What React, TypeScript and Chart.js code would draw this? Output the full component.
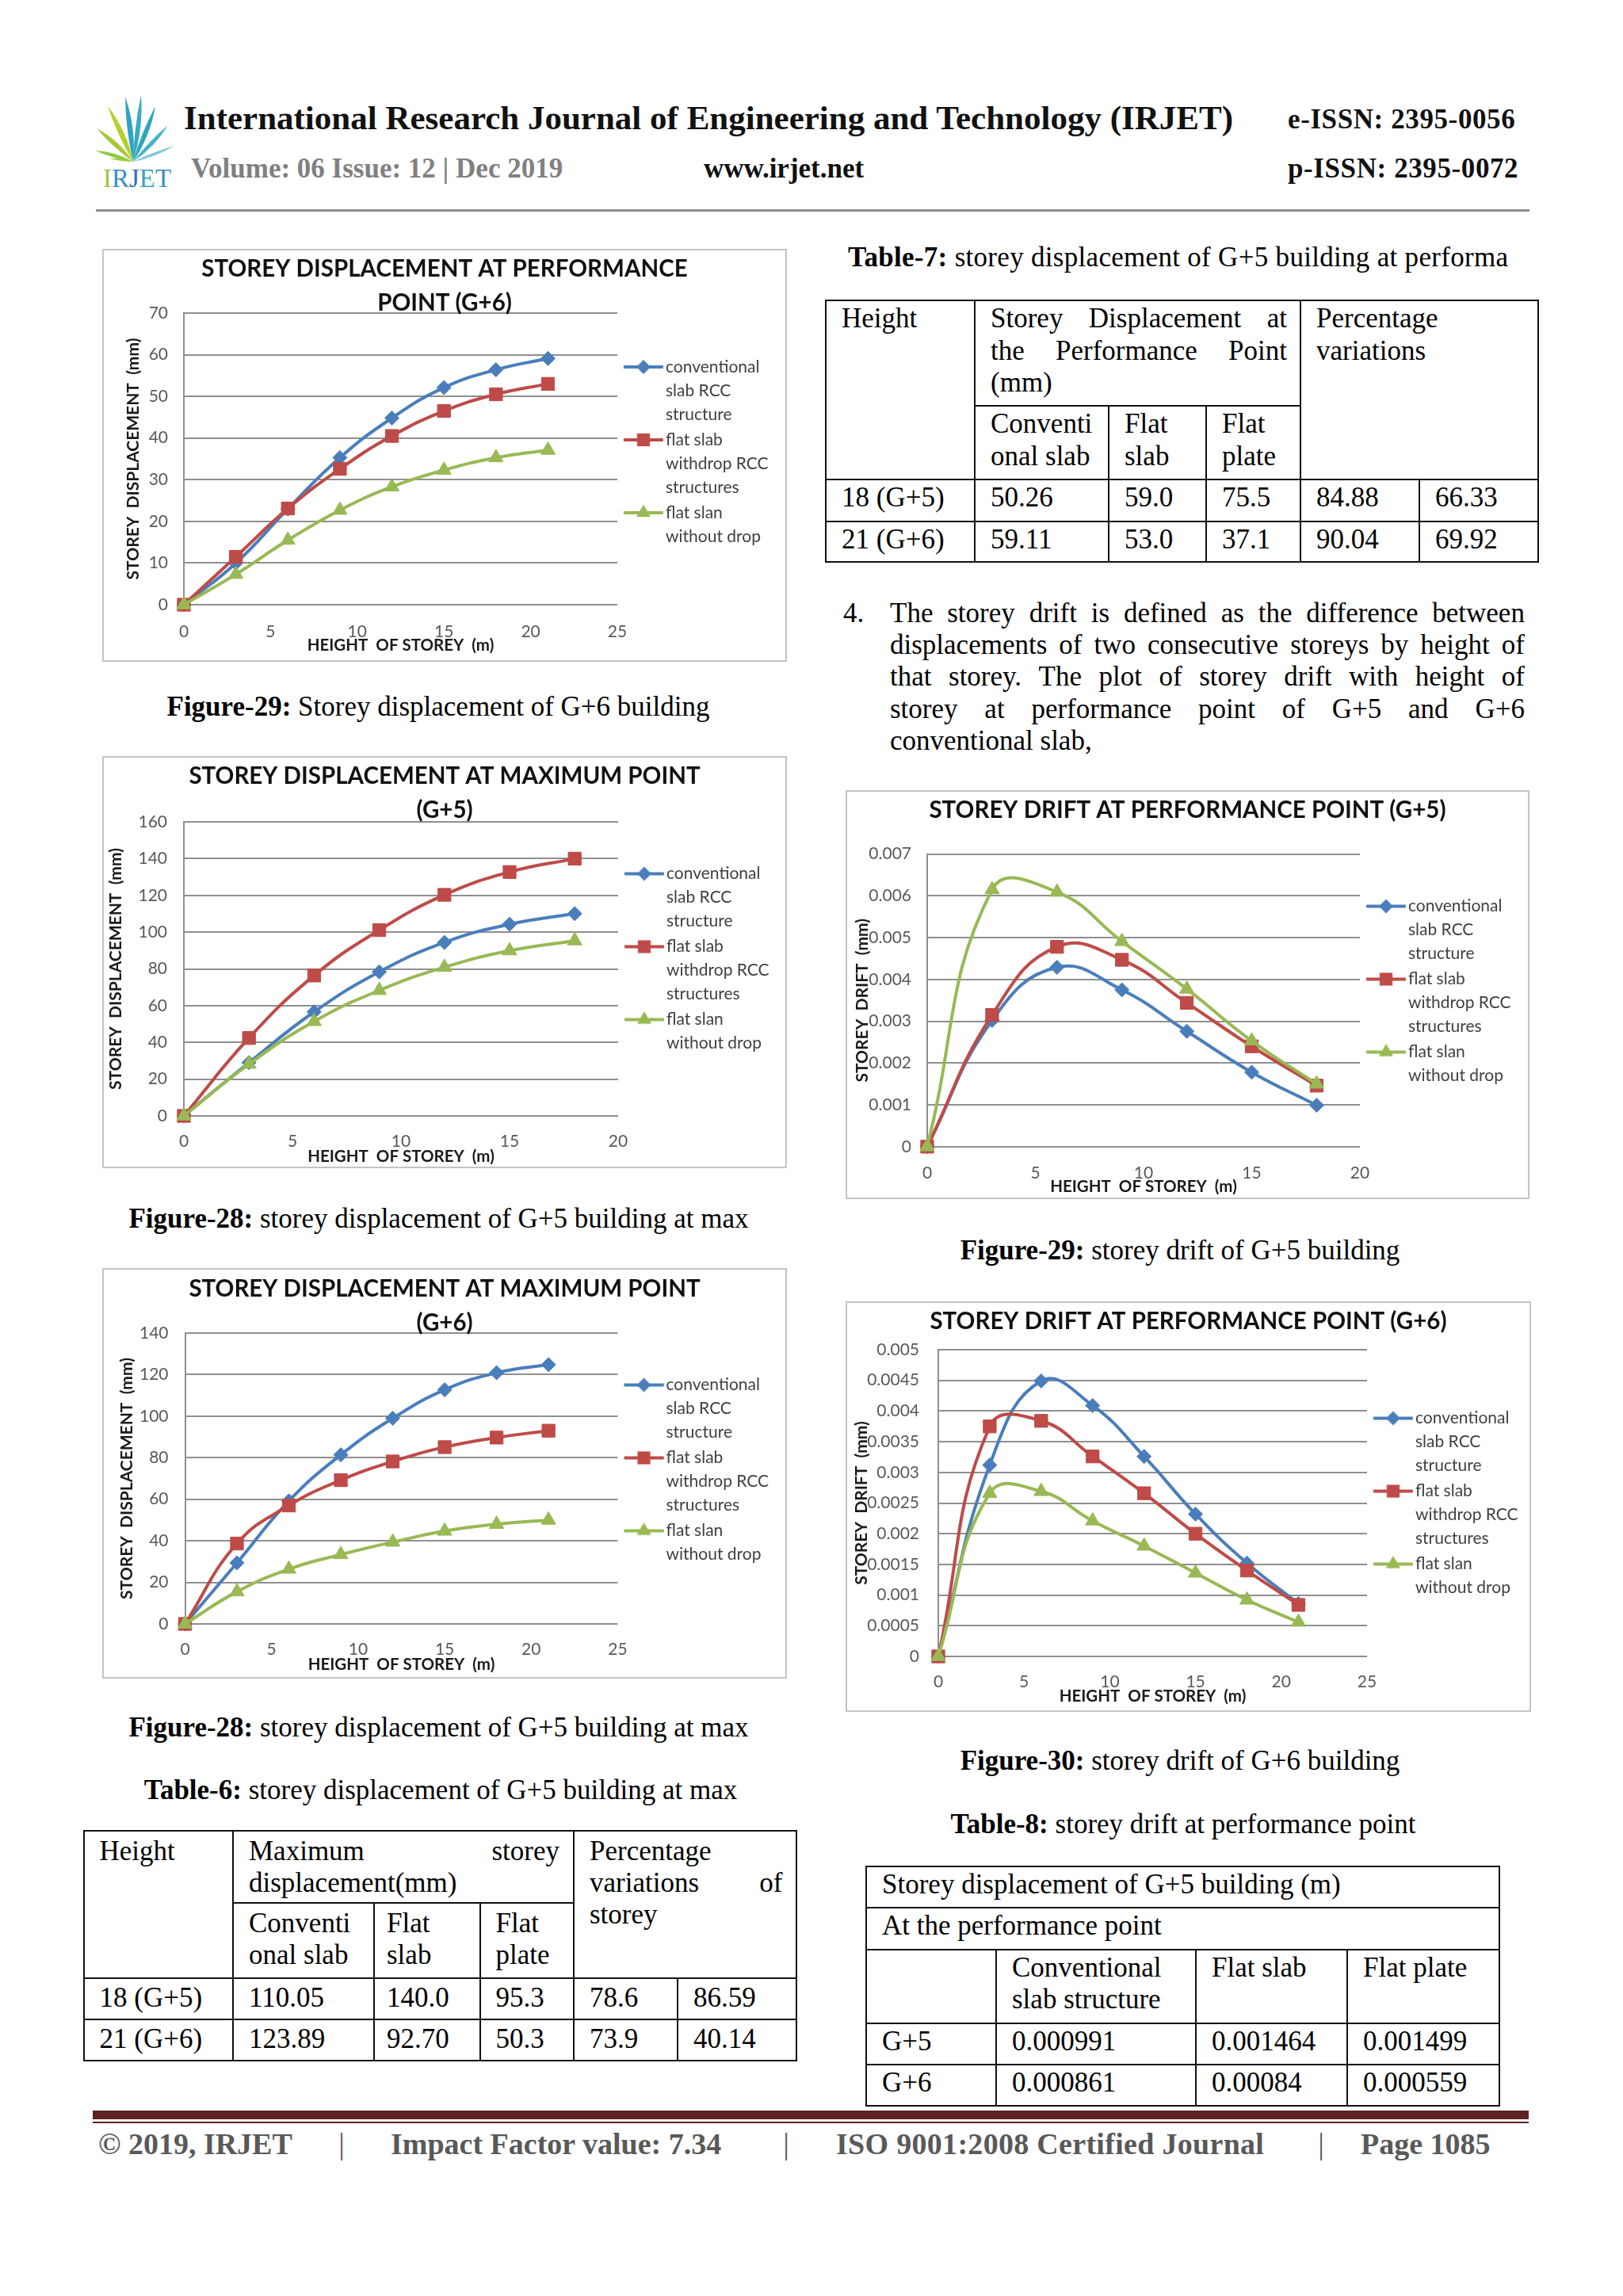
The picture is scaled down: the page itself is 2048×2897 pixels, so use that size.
import React, { useEffect, useRef } from 'react';
import { Chart, registerables } from 'chart.js';

Chart.register(...registerables);

const SERIF = "'Liberation Serif', 'Times New Roman', serif";
const SANS = "Lato, 'Open Sans', 'Liberation Sans', sans-serif";
Chart.defaults.font.family = SANS;

// ---------------- data ----------------
const HEIGHTS_G5 = [0, 3, 6, 9, 12, 15, 18];
const HEIGHTS_G6 = [0, 3, 6, 9, 12, 15, 18, 21];

const SERIES_NAMES = ['conventional slab RCC structure', 'flat slab withdrop RCC structures', 'flat slan without drop'];
const SERIES_LEGEND_LINES = [
  ['conventional', 'slab RCC', 'structure'],
  ['flat slab', 'withdrop RCC', 'structures'],
  ['flat slan', 'without drop'],
];

// Figure-29 (left): storey displacement at performance point, G+6 (mm)
const PERF_DISP_G6_CONV = [0, 10, 23, 35.3, 44.8, 52.1, 56.4, 59.1];
const PERF_DISP_G6_FLATSLAB = [0, 11.5, 23.1, 32.6, 40.5, 46.5, 50.5, 53.0];
const PERF_DISP_G6_FLATPLATE = [0, 7.3, 15.5, 22.7, 28.3, 32.3, 35.3, 37.1];

// Figure-28: maximum storey displacement, G+5 (mm)
const MAX_DISP_G5_CONV = [0, 29, 56.6, 78.4, 94.4, 104.3, 110.05];
const MAX_DISP_G5_FLATSLAB = [0, 42.4, 76.4, 101.1, 120.3, 132.7, 140.0];
const MAX_DISP_G5_FLATPLATE = [0, 28.2, 51.4, 68.3, 80.9, 89.9, 95.3];

// Figure-28 (second): maximum storey displacement, G+6 (mm)
const MAX_DISP_G6_CONV = [0, 29.4, 59.2, 81.4, 99.0, 112.7, 120.9, 124.8];
const MAX_DISP_G6_FLATSLAB = [0, 38.7, 57.0, 69.2, 78.2, 85.1, 89.7, 93.0];
const MAX_DISP_G6_FLATPLATE = [0, 15.5, 26.4, 33.4, 39.4, 44.7, 48.0, 50.0];

// Figure-29 (right): storey drift at performance point, G+5
const DRIFT_G5_CONV = [0, 0.00302, 0.00429, 0.00375, 0.00276, 0.00178, 0.00099];
const DRIFT_G5_FLATSLAB = [0, 0.00315, 0.00478, 0.00447, 0.00344, 0.0024, 0.00146];
const DRIFT_G5_FLATPLATE = [0, 0.00615, 0.00609, 0.00491, 0.00377, 0.00253, 0.0015];

// Figure-30: storey drift at performance point, G+6
const DRIFT_G6_CONV = [0, 0.00312, 0.00449, 0.00409, 0.00326, 0.00232, 0.00152, 0.00086];
const DRIFT_G6_FLATSLAB = [0, 0.00375, 0.00384, 0.00326, 0.00266, 0.002, 0.0014, 0.00084];
const DRIFT_G6_FLATPLATE = [0, 0.00266, 0.00269, 0.00221, 0.0018, 0.00136, 0.00092, 0.00056];

// tick values and labels
const X_TICKS_G5 = [0, 5, 10, 15, 20];
const X_TICKS_G6 = [0, 5, 10, 15, 20, 25];
const Y_TICKS_PERF_G6 = [0, 10, 20, 30, 40, 50, 60, 70];
const Y_LABELS_PERF_G6 = ['0', '10', '20', '30', '40', '50', '60', '70'];
const Y_TICKS_MAX_G5 = [0, 20, 40, 60, 80, 100, 120, 140, 160];
const Y_LABELS_MAX_G5 = ['0', '20', '40', '60', '80', '100', '120', '140', '160'];
const Y_TICKS_MAX_G6 = [0, 20, 40, 60, 80, 100, 120, 140];
const Y_LABELS_MAX_G6 = ['0', '20', '40', '60', '80', '100', '120', '140'];
const Y_TICKS_DRIFT_G5 = [0, 0.001, 0.002, 0.003, 0.004, 0.005, 0.006, 0.007];
const Y_LABELS_DRIFT_G5 = ['0', '0.001', '0.002', '0.003', '0.004', '0.005', '0.006', '0.007'];
const Y_TICKS_DRIFT_G6 = [0, 0.0005, 0.001, 0.0015, 0.002, 0.0025, 0.003, 0.0035, 0.004, 0.0045, 0.005];
const Y_LABELS_DRIFT_G6 = ['0', '0.0005', '0.001', '0.0015', '0.002', '0.0025', '0.003', '0.0035', '0.004', '0.0045', '0.005'];

// tables
const TABLE7_ROWS = [
  ['18 (G+5)', '50.26', '59.0', '75.5', '84.88', '66.33'],
  ['21 (G+6)', '59.11', '53.0', '37.1', '90.04', '69.92'],
];
const TABLE6_ROWS = [
  ['18 (G+5)', '110.05', '140.0', '95.3', '78.6', '86.59'],
  ['21 (G+6)', '123.89', '92.70', '50.3', '73.9', '40.14'],
];
const TABLE8_ROWS = [
  ['G+5', '0.000991', '0.001464', '0.001499'],
  ['G+6', '0.000861', '0.00084', '0.000559'],
];
const PARA_LINES = [
  'The storey drift is defined as the difference between',
  'displacements of two consecutive storeys by height of',
  'that storey. The plot of storey drift with height of',
  'storey at performance point of G+5 and G+6',
  'conventional slab,',
];

// ---------------- styles ----------------
const SERIES_STYLES = [
  { color: '#4A7EBB', point: 'rectRot', radius: 9 },
  { color: '#BE4B48', point: 'rect', radius: 11.5 },
  { color: '#98B954', point: 'triangle', radius: 10.5 },
];
const LINE_W = 4;
const GRID_COLOR = '#8f8f8f';
const TICK_COLOR = '#595959';
const TITLE_LH = 43;
const LEGEND_BOX_W = 48.5;
const LEGEND_PAD = 2;

type ChartSpec = {
  frame: number[];
  plot: number[];
  title: string[];
  titleCY: number;
  xTickCY: number;
  xTitleCY: number;
  yTickRight: number;
  yTitleX: number;
  yTitle: string;
  heights: number[];
  series: number[][];
  xTicks: number[];
  yTicks: number[];
  yLabels: string[];
};

const SPEC_PERF_G6: ChartSpec = {
  frame: [129, 314, 864, 521], plot: [232, 395, 779, 763],
  title: ['STOREY DISPLACEMENT AT PERFORMANCE', 'POINT (G+6)'], titleCY: 339,
  xTickCY: 797, xTitleCY: 814, yTickRight: 212, yTitleX: 168,
  yTitle: 'STOREY  DISPLACEMENT  (mm)',
  heights: HEIGHTS_G6, series: [PERF_DISP_G6_CONV, PERF_DISP_G6_FLATSLAB, PERF_DISP_G6_FLATPLATE],
  xTicks: X_TICKS_G6, yTicks: Y_TICKS_PERF_G6, yLabels: Y_LABELS_PERF_G6,
};
const SPEC_MAX_G5: ChartSpec = {
  frame: [129, 954, 864, 520], plot: [232, 1037, 780, 1408],
  title: ['STOREY DISPLACEMENT AT MAXIMUM POINT', '(G+5)'], titleCY: 979.5,
  xTickCY: 1440, xTitleCY: 1459, yTickRight: 211, yTitleX: 146,
  yTitle: 'STOREY  DISPLACEMENT  (mm)',
  heights: HEIGHTS_G5, series: [MAX_DISP_G5_CONV, MAX_DISP_G5_FLATSLAB, MAX_DISP_G5_FLATPLATE],
  xTicks: X_TICKS_G5, yTicks: Y_TICKS_MAX_G5, yLabels: Y_LABELS_MAX_G5,
};
const SPEC_MAX_G6: ChartSpec = {
  frame: [129, 1600, 864, 518], plot: [233.5, 1682, 779.5, 2049],
  title: ['STOREY DISPLACEMENT AT MAXIMUM POINT', '(G+6)'], titleCY: 1626,
  xTickCY: 2081, xTitleCY: 2100.5, yTickRight: 212.5, yTitleX: 160,
  yTitle: 'STOREY  DISPLACEMENT  (mm)',
  heights: HEIGHTS_G6, series: [MAX_DISP_G6_CONV, MAX_DISP_G6_FLATSLAB, MAX_DISP_G6_FLATPLATE],
  xTicks: X_TICKS_G6, yTicks: Y_TICKS_MAX_G6, yLabels: Y_LABELS_MAX_G6,
};
const SPEC_DRIFT_G5: ChartSpec = {
  frame: [1067, 997, 863, 516], plot: [1170, 1077.6, 1716, 1446.8],
  title: ['STOREY DRIFT AT PERFORMANCE POINT (G+5)'], titleCY: 1022.5,
  xTickCY: 1480, xTitleCY: 1497.7, yTickRight: 1150, yTitleX: 1088,
  yTitle: 'STOREY  DRIFT  (mm)',
  heights: HEIGHTS_G5, series: [DRIFT_G5_CONV, DRIFT_G5_FLATSLAB, DRIFT_G5_FLATPLATE],
  xTicks: X_TICKS_G5, yTicks: Y_TICKS_DRIFT_G5, yLabels: Y_LABELS_DRIFT_G5,
};
const SPEC_DRIFT_G6: ChartSpec = {
  frame: [1067, 1642, 865, 518], plot: [1184, 1703, 1725, 2090],
  title: ['STOREY DRIFT AT PERFORMANCE POINT (G+6)'], titleCY: 1667,
  xTickCY: 2122, xTitleCY: 2140, yTickRight: 1160, yTitleX: 1087,
  yTitle: 'STOREY  DRIFT  (mm)',
  heights: HEIGHTS_G6, series: [DRIFT_G6_CONV, DRIFT_G6_FLATSLAB, DRIFT_G6_FLATPLATE],
  xTicks: X_TICKS_G6, yTicks: Y_TICKS_DRIFT_G6, yLabels: Y_LABELS_DRIFT_G6,
};

function makeLegendIcon(style: { color: string; point: string }) {
  const c = document.createElement('canvas');
  c.width = 64;
  c.height = 28;
  const ctx = c.getContext('2d');
  if (!ctx) return c;
  const cy = 14;
  ctx.strokeStyle = style.color;
  ctx.lineWidth = LINE_W;
  ctx.beginPath();
  ctx.moveTo(13.75, cy);
  ctx.lineTo(63.75, cy);
  ctx.stroke();
  ctx.fillStyle = style.color;
  const cx = 38.75;
  ctx.beginPath();
  if (style.point === 'rectRot') {
    const r = 9;
    ctx.moveTo(cx, cy - r);
    ctx.lineTo(cx + r, cy);
    ctx.lineTo(cx, cy + r);
    ctx.lineTo(cx - r, cy);
  } else if (style.point === 'rect') {
    const s = 8.1;
    ctx.rect(cx - s, cy - s, 2 * s, 2 * s);
  } else {
    const r = 10.5;
    ctx.moveTo(cx, cy - r);
    ctx.lineTo(cx + r * 0.866, cy + r / 2);
    ctx.lineTo(cx - r * 0.866, cy + r / 2);
  }
  ctx.closePath();
  ctx.fill();
  return c;
}

function ChartPanel({ spec }: { spec: ChartSpec }) {
  const ref = useRef<HTMLCanvasElement | null>(null);
  const [fx, fy, fw, fh] = spec.frame;
  useEffect(() => {
    const canvas = ref.current;
    if (!canvas) return;
    const [pl, ptop, pr, pbot] = spec.plot;
    const icons = SERIES_STYLES.map((s) => makeLegendIcon(s));
    const titleTop = spec.titleCY - fy - TITLE_LH / 2;
    const titleBottom = ptop - fy - titleTop - spec.title.length * TITLE_LH;
    const xt = spec.xTicks;
    const yt = spec.yTicks;
    // the legend box must reach the canvas edge so that its text is not clipped:
    // trailing blanks widen the measured item, and maxWidth then fixes the box width.
    const legendWidth = fw - (pr - fx);
    const chart = new Chart(canvas, {
      type: 'line',
      data: {
        datasets: spec.series.map((vals, i) => ({
          label: SERIES_NAMES[i],
          data: spec.heights.map((h, k) => ({ x: h, y: vals[k] })),
          borderColor: SERIES_STYLES[i].color,
          backgroundColor: SERIES_STYLES[i].color,
          borderWidth: LINE_W,
          pointStyle: SERIES_STYLES[i].point,
          pointRadius: SERIES_STYLES[i].radius,
          pointHoverRadius: SERIES_STYLES[i].radius,
          pointBackgroundColor: SERIES_STYLES[i].color,
          pointBorderColor: SERIES_STYLES[i].color,
          pointBorderWidth: 1,
          tension: 0.45,
          fill: false,
          clip: false,
          order: SERIES_STYLES.length - i,
        })),
      },
      options: {
        responsive: false,
        maintainAspectRatio: false,
        animation: false,
        events: [],
        layout: { padding: 0 },
        plugins: {
          title: {
            display: true,
            text: spec.title,
            color: '#111111',
            font: { family: SANS, size: 29.5, weight: 'bold', lineHeight: TITLE_LH + 'px' },
            padding: { top: titleTop, bottom: titleBottom },
          },
          legend: {
            display: true,
            position: 'right',
            align: 'center',
            maxWidth: legendWidth,
            labels: {
              usePointStyle: true,
              pointStyleWidth: LEGEND_BOX_W,
              padding: LEGEND_PAD,
              color: '#404040',
              font: { family: SANS, size: 21, lineHeight: '30px' },
              generateLabels: () =>
                SERIES_NAMES.map((name, i) => ({
                  text: SERIES_LEGEND_LINES[i].map((l, k) => (i === 0 && k === 0 ? l + ' '.repeat(30) : l)),
                  fillStyle: SERIES_STYLES[i].color,
                  strokeStyle: SERIES_STYLES[i].color,
                  lineWidth: 0,
                  pointStyle: icons[i],
                  hidden: false,
                  datasetIndex: i,
                  fontColor: '#404040',
                  textAlign: 'left',
                })),
            },
          },
          tooltip: { enabled: false },
        },
        scales: {
          x: {
            type: 'linear',
            position: 'bottom',
            min: xt[0],
            max: xt[xt.length - 1],
            afterBuildTicks: (s: any) => {
              s.ticks = xt.map((v) => ({ value: v }));
            },
            afterFit: (s: any) => {
              s.height = fy + fh - pbot;
            },
            grid: { display: false, drawTicks: false },
            border: { display: false },
            ticks: {
              padding: spec.xTickCY - pbot - 12,
              color: TICK_COLOR,
              font: { family: SANS, size: 21, lineHeight: '24px' },
              maxRotation: 0,
              autoSkip: false,
              callback: (_v: any, i: number) => String(xt[i]),
            },
            title: {
              display: true,
              text: 'HEIGHT  OF STOREY  (m)',
              color: '#1a1a1a',
              font: { family: SANS, size: 20.5, weight: 'bold', lineHeight: '24px' },
              padding: { top: 0, bottom: fy + fh - spec.xTitleCY - 12 },
            },
          },
          y: {
            type: 'linear',
            position: 'left',
            min: yt[0],
            max: yt[yt.length - 1],
            afterBuildTicks: (s: any) => {
              s.ticks = yt.map((v) => ({ value: v }));
            },
            afterFit: (s: any) => {
              s.width = pl - fx;
            },
            grid: { color: GRID_COLOR, lineWidth: 2, drawTicks: false },
            border: { display: true, color: GRID_COLOR, width: 2 },
            ticks: {
              padding: pl - spec.yTickRight,
              color: TICK_COLOR,
              font: { family: SANS, size: 21, lineHeight: '24px' },
              autoSkip: false,
              callback: (_v: any, i: number) => spec.yLabels[i],
            },
            title: {
              display: true,
              text: spec.yTitle,
              color: '#1a1a1a',
              font: { family: SANS, size: 21, weight: 'bold', lineHeight: '24px' },
              padding: { top: spec.yTitleX - fx - 12, bottom: 0 },
            },
          },
        },
      },
    } as any);
    return () => chart.destroy();
  }, [spec]);
  return (
    <>
      <canvas
        ref={ref}
        width={fw}
        height={fh}
        style={{ position: 'absolute', left: fx, top: fy, width: fw, height: fh }}
      />
      <div
        style={{
          position: 'absolute', left: fx, top: fy, width: fw, height: fh,
          border: '2px solid #c4c4c4', boxSizing: 'border-box', pointerEvents: 'none',
        }}
      />
    </>
  );
}

// ---------------- page text helpers ----------------
type TxtProps = {
  x: number; base: number; fs: number; bold?: boolean; color?: string;
  children: React.ReactNode; ls?: number; center?: boolean;
};
function Txt({ x, base, fs, bold, color = '#000', children, ls = 0, center }: TxtProps) {
  const L = fs * 1.2;
  const top = base - (L / 2 + 0.3375 * fs);
  return (
    <div
      style={{
        position: 'absolute', top, left: center ? x - 800 : x, width: center ? 1600 : undefined,
        textAlign: center ? 'center' : 'left', fontFamily: SERIF, fontSize: fs,
        lineHeight: `${L}px`, fontWeight: bold ? 700 : 400, color, whiteSpace: 'nowrap', letterSpacing: ls,
      }}
    >
      {children}
    </div>
  );
}

function Caption({ cx, base, label, text }: { cx: number; base: number; label: string; text: string }) {
  return (
    <Txt x={cx} base={base} fs={35} center>
      <b>{label}</b>
      {text}
    </Txt>
  );
}

function JLine({ text }: { text: string }) {
  return (
    <div style={{ display: 'flex', justifyContent: 'space-between', whiteSpace: 'pre' }}>
      {text.split(' ').map((w, i) => (
        <span key={i}>{w}</span>
      ))}
    </div>
  );
}

type CellProps = {
  x1: number; y1: number; x2: number; y2: number; pt: number; lh: number;
  pl?: number; pr?: number; children?: React.ReactNode;
};
function Cell({ x1, y1, x2, y2, pt, lh, pl = 19, pr = 16, children }: CellProps) {
  return (
    <div
      style={{
        position: 'absolute', left: x1 - 1, top: y1 - 1, width: x2 - x1 + 2, height: y2 - y1 + 2,
        border: '2px solid #111', boxSizing: 'border-box', padding: `${pt}px ${pr}px 0 ${pl}px`,
        fontFamily: SERIF, fontSize: 35, lineHeight: `${lh}px`, whiteSpace: 'nowrap', color: '#000',
      }}
    >
      {children}
    </div>
  );
}

function leafPath(bx: number, by: number, tx: number, ty: number, w: number) {
  const mx = (bx + tx) / 2;
  const my = (by + ty) / 2;
  const dx = tx - bx;
  const dy = ty - by;
  const len = Math.hypot(dx, dy);
  const nx = (-dy / len) * w;
  const ny = (dx / len) * w;
  return `M${bx},${by} Q${mx + nx},${my + ny} ${tx},${ty} Q${mx - nx * 0.5},${my - ny * 0.5} ${bx},${by} Z`;
}

function Logo() {
  const leaves = [
    { t: [40, 4], w: 9, c: '#2fa4c0' },
    { t: [60, 2], w: 8, c: '#38aac6' },
    { t: [78, 16], w: 8, c: '#2fa4c0' },
    { t: [94, 40], w: 7, c: '#45b3cc' },
    { t: [102, 66], w: 5, c: '#7cc8d8' },
    { t: [18, 16], w: 9, c: '#b5cf2c' },
    { t: [4, 44], w: 8, c: '#a6c837' },
    { t: [2, 72], w: 6, c: '#8cc63e' },
    { t: [20, 82], w: 4, c: '#9cce4a' },
  ];
  return (
    <svg style={{ position: 'absolute', left: 118, top: 118 }} width={108} height={124} viewBox="0 0 108 124">
      {leaves.map((l, i) => (
        <path key={i} d={leafPath(50, 86, l.t[0], l.t[1], l.w)} fill={l.c} />
      ))}
      <text x={12} y={118} fontFamily={SERIF} fontSize={34} textLength={86} lengthAdjust="spacingAndGlyphs">
        <tspan fill="#9dc23b">I</tspan>
        <tspan fill="#3c8fc4">R</tspan>
        <tspan fill="#2f6fb5">J</tspan>
        <tspan fill="#3ba4bf">E</tspan>
        <tspan fill="#3c8fc4">T</tspan>
      </text>
    </svg>
  );
}

// ---------------- tables ----------------
function Table7() {
  const c = [1042, 1230, 1399, 1522, 1641, 1791, 1941];
  const r = [379, 512, 605, 658, 709];
  const lh = 40.5;
  const pt = 2;
  return (
    <>
      <Cell x1={c[0]} y1={r[0]} x2={c[1]} y2={r[2]} pt={pt} lh={lh}>Height</Cell>
      <Cell x1={c[1]} y1={r[0]} x2={c[4]} y2={r[1]} pt={pt} lh={lh}>
        <JLine text="Storey Displacement at" />
        <JLine text="the Performance Point" />
        <div>(mm)</div>
      </Cell>
      <Cell x1={c[4]} y1={r[0]} x2={c[6]} y2={r[2]} pt={pt} lh={lh}>
        <div>Percentage</div>
        <div>variations</div>
      </Cell>
      <Cell x1={c[1]} y1={r[1]} x2={c[2]} y2={r[2]} pt={pt} lh={lh}>
        <div>Conventi</div>
        <div>onal slab</div>
      </Cell>
      <Cell x1={c[2]} y1={r[1]} x2={c[3]} y2={r[2]} pt={pt} lh={lh}>
        <div>Flat</div>
        <div>slab</div>
      </Cell>
      <Cell x1={c[3]} y1={r[1]} x2={c[4]} y2={r[2]} pt={pt} lh={lh}>
        <div>Flat</div>
        <div>plate</div>
      </Cell>
      {TABLE7_ROWS.map((row, ri) =>
        row.map((v, ci) => (
          <Cell key={`${ri}-${ci}`} x1={c[ci]} y1={r[2 + ri]} x2={c[ci + 1]} y2={r[3 + ri]} pt={pt} lh={lh}>
            {v}
          </Cell>
        ))
      )}
    </>
  );
}

function Table6() {
  const c = [105.5, 294, 472, 605.5, 724, 855, 1005];
  const r = [2310, 2401, 2496, 2548, 2600];
  const lh = 40;
  const pt = 5;
  return (
    <>
      <Cell x1={c[0]} y1={r[0]} x2={c[1]} y2={r[2]} pt={pt} lh={lh}>Height</Cell>
      <Cell x1={c[1]} y1={r[0]} x2={c[4]} y2={r[1]} pt={pt} lh={lh} pr={17}>
        <JLine text="Maximum storey" />
        <div>displacement(mm)</div>
      </Cell>
      <Cell x1={c[4]} y1={r[0]} x2={c[6]} y2={r[2]} pt={pt} lh={lh} pr={16.5}>
        <div>Percentage</div>
        <JLine text="variations of" />
        <div>storey</div>
      </Cell>
      <Cell x1={c[1]} y1={r[1]} x2={c[2]} y2={r[2]} pt={pt} lh={lh}>
        <div>Conventi</div>
        <div>onal slab</div>
      </Cell>
      <Cell x1={c[2]} y1={r[1]} x2={c[3]} y2={r[2]} pt={pt} lh={lh} pl={15}>
        <div>Flat</div>
        <div>slab</div>
      </Cell>
      <Cell x1={c[3]} y1={r[1]} x2={c[4]} y2={r[2]} pt={pt} lh={lh}>
        <div>Flat</div>
        <div>plate</div>
      </Cell>
      {TABLE6_ROWS.map((row, ri) =>
        row.map((v, ci) => (
          <Cell
            key={`${ri}-${ci}`}
            x1={c[ci]} y1={r[2 + ri]} x2={c[ci + 1]} y2={r[3 + ri]}
            pt={3.5} lh={lh} pl={ci === 2 ? 15 : 19}
          >
            {v}
          </Cell>
        ))
      )}
    </>
  );
}

function Table8() {
  const c = [1093, 1257, 1509, 1700, 1892];
  const r = [2355, 2407, 2460, 2553, 2605, 2657];
  const lh = 40;
  const pt = 1.5;
  return (
    <>
      <Cell x1={c[0]} y1={r[0]} x2={c[4]} y2={r[1]} pt={pt} lh={lh}>Storey displacement of G+5 building (m)</Cell>
      <Cell x1={c[0]} y1={r[1]} x2={c[4]} y2={r[2]} pt={pt} lh={lh}>At the performance point</Cell>
      <Cell x1={c[0]} y1={r[2]} x2={c[1]} y2={r[3]} pt={pt} lh={lh} />
      <Cell x1={c[1]} y1={r[2]} x2={c[2]} y2={r[3]} pt={pt} lh={lh}>
        <div>Conventional</div>
        <div>slab structure</div>
      </Cell>
      <Cell x1={c[2]} y1={r[2]} x2={c[3]} y2={r[3]} pt={pt} lh={lh}>Flat slab</Cell>
      <Cell x1={c[3]} y1={r[2]} x2={c[4]} y2={r[3]} pt={pt} lh={lh}>Flat plate</Cell>
      {TABLE8_ROWS.map((row, ri) =>
        row.map((v, ci) => (
          <Cell key={`${ri}-${ci}`} x1={c[ci]} y1={r[3 + ri]} x2={c[ci + 1]} y2={r[4 + ri]} pt={pt} lh={lh}>
            {v}
          </Cell>
        ))
      )}
    </>
  );
}

export default function App() {
  const footColor = '#595959';
  return (
    <div
      style={{
        position: 'absolute', left: 0, top: 0, width: 2048, height: 2897,
        background: '#ffffff', overflow: 'hidden',
      }}
    >
      {/* header */}
      <Logo />
      <Txt x={232} base={163} fs={43} bold color="#111">
        International Research Journal of Engineering and Technology (IRJET)
      </Txt>
      <Txt x={1625} base={163} fs={35} bold ls={0.6} color="#111">e-ISSN: 2395-0056</Txt>
      <Txt x={241} base={225} fs={35} bold color="#808080">Volume: 06 Issue: 12 | Dec 2019</Txt>
      <Txt x={888} base={225} fs={35} bold color="#111">www.irjet.net</Txt>
      <Txt x={1625} base={225} fs={35} bold ls={0.6} color="#111">p-ISSN: 2395-0072</Txt>
      <div style={{ position: 'absolute', left: 121, top: 264, width: 1809, height: 3, background: '#8c8c8c' }} />

      {/* left column */}
      <ChartPanel spec={SPEC_PERF_G6} />
      <Caption cx={553} base={903.5} label="Figure-29:" text=" Storey displacement of G+6 building" />
      <ChartPanel spec={SPEC_MAX_G5} />
      <Caption cx={553.5} base={1549.5} label="Figure-28:" text=" storey displacement of G+5 building at max" />
      <ChartPanel spec={SPEC_MAX_G6} />
      <Caption cx={553.5} base={2191.5} label="Figure-28:" text=" storey displacement of G+5 building at max" />
      <Caption cx={556} base={2270.5} label="Table-6:" text=" storey displacement of G+5 building at max" />
      <Table6 />

      {/* right column */}
      <Txt x={1070} base={336.5} fs={35} ls={0.3}>
        <b>Table-7:</b> storey displacement of G+5 building at performa
      </Txt>
      <Table7 />
      <div
        style={{
          position: 'absolute', left: 1064, top: 774 - 20.15, fontFamily: SERIF, fontSize: 35,
          lineHeight: '40.3px', color: '#000',
        }}
      >
        4.
      </div>
      <div
        style={{
          position: 'absolute', left: 1123, top: 774 - 20.15, width: 801, fontFamily: SERIF,
          fontSize: 35, lineHeight: '40.3px', color: '#000',
        }}
      >
        {PARA_LINES.map((l, i) =>
          i < PARA_LINES.length - 1 ? <JLine key={i} text={l} /> : <div key={i}>{l}</div>
        )}
      </div>
      <ChartPanel spec={SPEC_DRIFT_G5} />
      <Caption cx={1489} base={1589.5} label="Figure-29:" text=" storey drift of G+5 building" />
      <ChartPanel spec={SPEC_DRIFT_G6} />
      <Caption cx={1489} base={2233.5} label="Figure-30:" text=" storey drift of G+6 building" />
      <Caption cx={1493} base={2313.5} label="Table-8:" text=" storey drift at performance point" />
      <Table8 />

      {/* footer */}
      <div style={{ position: 'absolute', left: 117, top: 2663, width: 1812, height: 11, background: '#5e2222' }} />
      <div style={{ position: 'absolute', left: 117, top: 2676.5, width: 1812, height: 2.5, background: '#5e2222' }} />
      <Txt x={124} base={2719} fs={38} bold color={footColor}>© 2019, IRJET</Txt>
      <Txt x={431} base={2719} fs={38} color={footColor} center>|</Txt>
      <Txt x={493} base={2719} fs={38} bold color={footColor}>Impact Factor value: 7.34</Txt>
      <Txt x={992} base={2719} fs={38} color={footColor} center>|</Txt>
      <Txt x={1055} base={2719} fs={38} bold color={footColor} ls={0.3}>ISO 9001:2008 Certified Journal</Txt>
      <Txt x={1667} base={2719} fs={38} color={footColor} center>|</Txt>
      <Txt x={1717} base={2719} fs={38} bold color={footColor}>Page 1085</Txt>
    </div>
  );
}
